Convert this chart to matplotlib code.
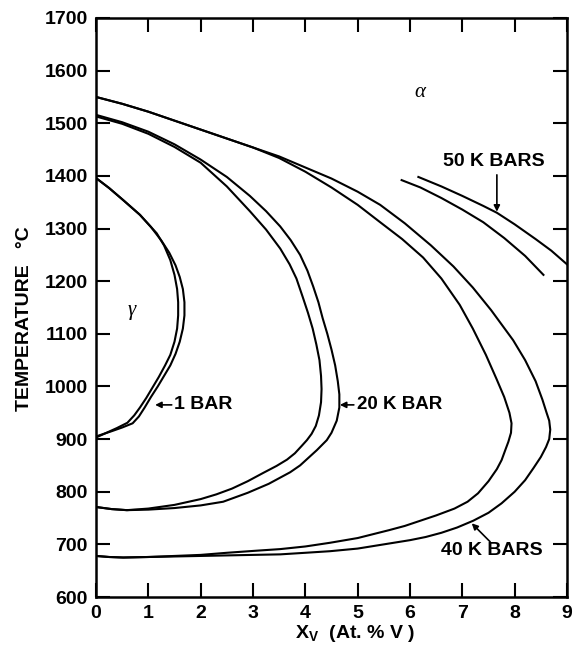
import matplotlib
matplotlib.use("Agg")
import matplotlib.pyplot as plt

# 1 bar loop (outer / inner boundary), x in at.% V, T in deg C
bar1_outer_x = [0, 0.25, 0.52, 0.84, 1.05, 1.25, 1.4, 1.52, 1.6, 1.66, 1.69, 1.69, 1.66, 1.6, 1.52, 1.42,
                1.3, 1.18, 1.05, 0.93, 0.82, 0.7, 0.5, 0.3, 0.12, 0]
bar1_outer_t = [1396, 1377, 1354, 1326, 1303, 1277, 1254, 1230, 1208, 1185, 1160, 1135, 1110, 1085, 1062, 1040,
                1020, 1000, 980, 960, 943, 930, 922, 915, 909, 905]
bar1_inner_x = [0, 0.25, 0.52, 0.84, 1.05, 1.16, 1.3, 1.42, 1.5, 1.55, 1.57, 1.57, 1.55, 1.5, 1.42, 1.32,
                1.2, 1.08, 0.96, 0.84, 0.73, 0.6, 0.4, 0.2, 0]
bar1_inner_t = [1396, 1377, 1354, 1326, 1303, 1291, 1268, 1240, 1212, 1185, 1160, 1135, 1110, 1085, 1060, 1040,
                1018, 998, 978, 960, 945, 931, 921, 912, 903]

# 20 kbar loop
k20_outer_x = [0, 0.5, 1.0, 1.5, 2.0, 2.5, 2.94, 3.25, 3.52, 3.72, 3.9, 4.04, 4.15, 4.25, 4.33, 4.42, 4.5,
               4.57, 4.62, 4.65, 4.65, 4.6, 4.5, 4.41, 4.22, 3.9, 3.71, 3.3, 2.9, 2.43, 2.0, 1.5, 1.0,
               0.59, 0.3, 0]
k20_outer_t = [1516, 1502, 1484, 1460, 1431, 1398, 1362, 1333, 1304, 1278, 1250, 1220, 1190, 1160, 1130, 1100, 1070,
               1040, 1010, 985, 960, 935, 912, 898, 879, 850, 837, 815, 798, 781, 774, 769, 766,
               765, 767, 771]
k20_inner_x = [0, 0.5, 1.0, 1.5, 2.0, 2.5, 2.94, 3.25, 3.52, 3.7, 3.83, 3.95, 4.05, 4.14, 4.21, 4.27, 4.3,
               4.31, 4.3, 4.26, 4.2, 4.12, 4.03, 3.93, 3.8, 3.65, 3.45, 3.2, 2.9, 2.6, 2.3, 2.0, 1.5,
               1.0, 0.59, 0.3, 0]
k20_inner_t = [1513, 1499, 1480, 1455, 1425, 1380, 1333, 1298, 1262, 1232, 1205, 1170, 1140, 1110, 1080, 1050, 1020,
               995, 970, 945, 925, 910, 898, 887, 873, 861, 849, 836, 820, 806, 795, 786, 775,
               768, 765, 767, 771]

# 40 kbar loop
k40_outer_x = [0, 0.5, 1.0, 1.5, 2.0, 2.5, 3.0, 3.5, 4.0, 4.5, 5.0, 5.43, 5.9, 6.4, 6.83, 7.2, 7.55, 7.97,
               8.2, 8.4, 8.53, 8.61, 8.66, 8.68, 8.66, 8.6, 8.5, 8.36, 8.2, 8.0, 7.75, 7.5, 7.21, 6.9,
               6.6, 6.3, 6.0, 5.5, 5.0, 4.47, 4.0, 3.52, 3.0, 2.5, 2.0, 1.5, 1.0, 0.52, 0.25, 0]
k40_outer_t = [1550, 1537, 1522, 1505, 1488, 1471, 1454, 1437, 1416, 1395, 1370, 1345, 1310, 1268, 1228, 1188, 1145, 1088,
               1050, 1010, 975, 950, 935, 918, 900, 885, 866, 845, 822, 800, 778, 760, 745, 732,
               722, 714, 708, 700, 692, 687, 684, 681, 680, 679, 678, 677, 676, 675, 676, 678]
k40_inner_x = [0, 0.5, 1.0, 1.5, 2.0, 2.5, 3.0, 3.5, 4.0, 4.5, 5.0, 5.43, 5.85, 6.25, 6.6, 6.95, 7.2, 7.45,
               7.65, 7.8, 7.9, 7.94, 7.93, 7.88, 7.82, 7.75, 7.66, 7.5, 7.3, 7.1, 6.85, 6.5, 6.2, 5.9,
               5.6, 5.0, 4.47, 4.0, 3.52, 3.07, 2.5, 2.0, 1.5, 1.0, 0.52, 0.25, 0]
k40_inner_t = [1550, 1537, 1522, 1505, 1488, 1471, 1454, 1434, 1408, 1378, 1345, 1312, 1280, 1245, 1205, 1155, 1110, 1060,
               1015, 980, 950, 930, 912, 895, 879, 860, 843, 820, 797, 781, 768, 755, 745, 735,
               727, 712, 703, 696, 691, 688, 684, 680, 678, 676, 675, 676, 678]

# 50 kbar boundaries (partial)
k50_lower_x = [5.84, 6.2, 6.6, 7.0, 7.4, 7.8, 8.2, 8.55]
k50_lower_t = [1392, 1378, 1358, 1336, 1312, 1282, 1248, 1212]
k50_upper_x = [6.16, 6.6, 7.0, 7.4, 7.66, 8.0, 8.4, 8.7, 9.0]
k50_upper_t = [1398, 1380, 1362, 1343, 1330, 1308, 1280, 1258, 1232]

plt.rcParams["font.family"] = ["Liberation Sans", "DejaVu Sans"]
plt.rcParams["mathtext.fontset"] = "custom"
plt.rcParams["mathtext.rm"] = "Liberation Sans"
plt.rcParams["mathtext.bf"] = "Liberation Sans:bold"

fig = plt.figure(figsize=(5.74, 6.45), dpi=100)
ax = fig.add_axes([96 / 574, 48 / 645, 471 / 574, 579 / 645])

lw = 1.5
for xs, ts in [(bar1_outer_x, bar1_outer_t), (bar1_inner_x, bar1_inner_t),
               (k20_outer_x, k20_outer_t), (k20_inner_x, k20_inner_t),
               (k40_outer_x, k40_outer_t), (k40_inner_x, k40_inner_t),
               (k50_lower_x, k50_lower_t), (k50_upper_x, k50_upper_t)]:
    ax.plot(xs, ts, color="black", lw=lw, solid_joinstyle="round")

ax.set_xlim(0, 9)
ax.set_ylim(600, 1700)
ax.set_xticks(range(0, 10))
ax.set_yticks(range(600, 1701, 100))
ax.tick_params(direction="in", length=10, width=1.5, top=True, right=True,
               labelsize=14, pad=6)
for lab in ax.get_xticklabels() + ax.get_yticklabels():
    lab.set_fontweight("bold")
for sp in ax.spines.values():
    sp.set_linewidth(1.8)

ax.set_xlabel(r"X$_{\mathbf{V}}$  (At. % V )", fontsize=14, fontweight="bold")
ax.xaxis.set_label_coords((355 - 96) / 471, -0.045)
ax.set_ylabel("TEMPERATURE   °C", fontsize=14, fontweight="bold")
ax.yaxis.set_label_coords(-0.134, 0.48)

ax.text(6.19, 1559, "α", fontsize=15, style="italic", family="Liberation Serif",
        ha="center", va="center")
ax.text(0.68, 1145, "γ", fontsize=15, style="italic", family="Liberation Serif",
        ha="center", va="center")

arrow = dict(arrowstyle="-|>", color="black", lw=1.2, mutation_scale=9, shrinkA=0, shrinkB=0)
ax.annotate("1 BAR", xy=(1.13, 965), xytext=(1.5, 965), fontsize=14, fontweight="bold",
            ha="left", va="center", arrowprops=arrow)
ax.annotate("20 K BAR", xy=(4.66, 965), xytext=(4.98, 965), fontsize=13.5, fontweight="bold",
            ha="left", va="center", arrowprops=arrow)
ax.text(7.61, 1427, "50 K BARS", fontsize=14, fontweight="bold", ha="center", va="center")
ax.annotate("", xy=(7.66, 1332), xytext=(7.66, 1402), arrowprops=arrow)
ax.text(7.56, 689, "40 K BARS", fontsize=14, fontweight="bold", ha="center", va="center")
ax.annotate("", xy=(7.18, 740), xytext=(7.53, 705), arrowprops=arrow)

fig.savefig("out.png", dpi=100)
